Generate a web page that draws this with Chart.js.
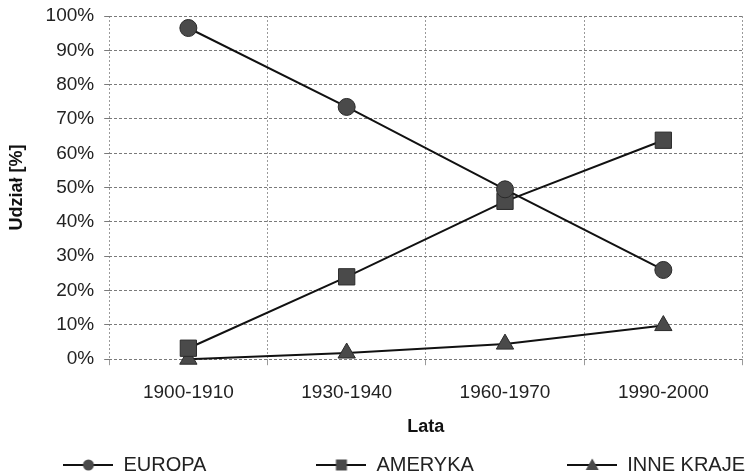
<!DOCTYPE html>
<html>

<head>
    <meta charset="utf-8">
    <title>chart</title>
    <script src="https://cdn.jsdelivr.net/npm/chart.js"></script>
    <style>
        html, body { margin: 0; padding: 0; background: #fff; }
        #wrap { width: 755px; height: 476px; }
    </style>
</head>

<body>
    <div id="wrap">
        <canvas id="myChart"></canvas>
    </div>
    <script>
    // dane
    var lata = ['1900-1910', '1930-1940', '1960-1970', '1990-2000'];
    var europa = [96.5, 73.5, 49.5, 26];
    var ameryka = [3.2, 24, 46, 63.8];
    var inneKraje = [0, 1.8, 4.4, 9.8];
    var yTicks = [0, 10, 20, 30, 40, 50, 60, 70, 80, 90, 100];

    var FONT = "'Liberation Sans', Arial, sans-serif";
    var lineColor = '#111';
    var markerFill = '#4a4a4a';
    var markerBorder = '#2a2a2a';

    // ikonki legendy: linia + znacznik
    function legendIcon(kind) {
        var c = document.createElement('canvas');
        c.width = 50; c.height = 20;
        var g = c.getContext('2d');
        g.strokeStyle = lineColor;
        g.lineWidth = 2;
        g.beginPath(); g.moveTo(0, 10); g.lineTo(50, 10); g.stroke();
        g.fillStyle = markerFill;
        g.beginPath();
        if (kind === 'circle') {
            g.arc(25, 10, 5.5, 0, Math.PI * 2);
        } else if (kind === 'rect') {
            g.rect(19.5, 4.5, 11, 11);
        } else {
            g.moveTo(25, 3.5); g.lineTo(31.5, 15); g.lineTo(18.5, 15); g.closePath();
        }
        g.fill();
        return c;
    }

    // odstępy w legendzie (spacje niełamliwe na końcu)
    function gap(n) { return '\u00a0'.repeat(n); }

    function series(label, data, style, radius, extraSpace) {
        return {
            label: label,
            data: data,
            legendText: label + gap(extraSpace),
            icon: legendIcon(style),
            pointStyle: style,
            pointRadius: radius,
            pointHoverRadius: radius,
            borderColor: lineColor,
            backgroundColor: markerFill,
            borderWidth: 2,
            pointBackgroundColor: markerFill,
            pointBorderColor: markerBorder,
            pointBorderWidth: 1,
            tension: 0
        };
    }

    var ctx = document.getElementById('myChart').getContext('2d');
    var myChart = new Chart(ctx, {
        type: 'line',
        data: {
            labels: lata,
            datasets: [
                series('EUROPA', europa, 'circle', 8.5, 18),
                series('AMERYKA', ameryka, 'rect', 11.5, 15),
                series('INNE KRAJE', inneKraje, 'triangle', 10, 0)
            ]
        },
        options: {
            responsive: true,
            maintainAspectRatio: false,
            animation: false,
            clip: false,
            layout: { padding: { top: 0, left: 4, right: 0, bottom: -9 } },
            plugins: {
                legend: {
                    position: 'bottom',
                    align: 'end',
                    labels: {
                        usePointStyle: true,
                        pointStyleWidth: 50,
                        padding: 10,
                        color: '#222',
                        font: { family: FONT, size: 20 },
                        generateLabels: function (chart) {
                            return chart.data.datasets.map(function (ds, i) {
                                return {
                                    text: ds.legendText,
                                    pointStyle: ds.icon,
                                    fontColor: '#222',
                                    lineWidth: 0,
                                    strokeStyle: 'transparent',
                                    fillStyle: 'transparent',
                                    datasetIndex: i
                                };
                            });
                        }
                    }
                },
                tooltip: { enabled: false }
            },
            scales: {
                x: {
                    offset: true,
                    grid: {
                        offset: true,
                        color: '#9a9a9a',
                        lineWidth: 1,
                        tickLength: 6
                    },
                    border: { display: false, dash: [2, 2] },
                    ticks: {
                        color: '#222',
                        padding: 16,
                        font: { family: FONT, size: 19 }
                    },
                    title: {
                        display: true,
                        text: 'Lata',
                        color: '#111',
                        font: { family: FONT, size: 18, weight: 'bold', lineHeight: 1 },
                        padding: { top: -2, bottom: 9 }
                    }
                },
                y: {
                    min: 0,
                    max: 100,
                    afterBuildTicks: function (axis) {
                        axis.ticks = yTicks.map(function (v) { return { value: v }; });
                    },
                    afterFit: function (axis) {
                        axis.paddingTop = 16;
                    },
                    grid: {
                        color: '#7a7a7a',
                        lineWidth: 1,
                        tickLength: 5
                    },
                    border: { display: false, dash: [3, 2] },
                    ticks: {
                        autoSkip: false,
                        color: '#222',
                        padding: 10,
                        font: { family: FONT, size: 19 },
                        callback: function (v) { return v + '%'; }
                    },
                    title: {
                        display: true,
                        text: 'Udział [%]',
                        color: '#111',
                        font: { family: FONT, size: 18, weight: 'bold' },
                        padding: { top: 2, bottom: 8 }
                    }
                }
            }
        }
    });
    </script>
</body>

</html>
